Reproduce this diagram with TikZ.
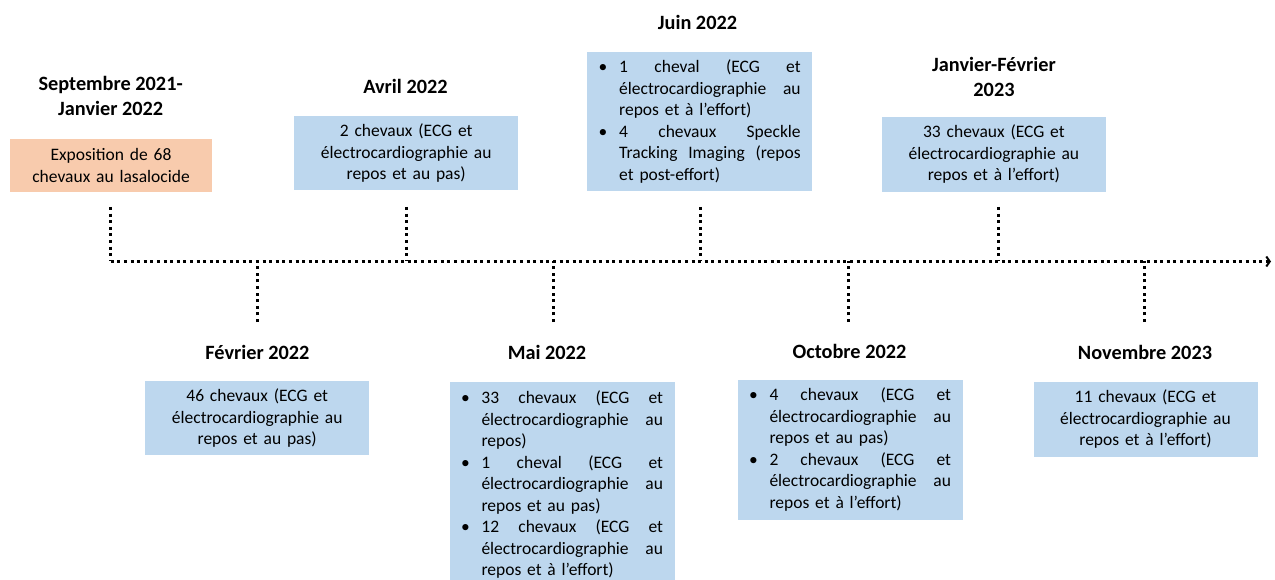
\documentclass[tikz,border=0pt]{standalone}
\usepackage{fontspec}
\setmainfont{Carlito}
\usetikzlibrary{arrows.meta}

\definecolor{boxblue}{HTML}{BDD7EE}
\definecolor{boxorange}{HTML}{F8CBAD}

\newcommand\bodyfont{\fontsize{17.5pt}{21.5pt}\selectfont}
\newcommand\titlefont{\fontsize{20.3pt}{24.5pt}\selectfont\bfseries}

% justified line of fixed width: interword spaces stretch to fill it
\newcommand\tlfill[1]{\hbox to 181.5pt{\spaceskip=\fontdimen2\font plus 1fil\relax #1}}
% list lines: first line of an item (bullet + justified), justified continuation, last line
\newcommand\tlbullet[1]{\hbox to 201pt{\hbox to 20pt{\kern-0.5pt\textbullet\hss}\tlfill{#1}\hss}}
\newcommand\tljust[1]{\hbox to 201pt{\kern20pt\tlfill{#1}\hss}}
\newcommand\tlrest[1]{\hbox to 201pt{\kern20pt #1\hss}}

\tikzset{
  title/.style={font=\titlefont, align=center, inner sep=0pt, text=black},
  infobox/.style={fill=boxblue, font=\bodyfont, align=center, text width=200pt,
    minimum width=224pt, inner xsep=12pt, inner ysep=0pt, anchor=north west, text=black},
  listbox/.style={fill=boxblue, font=\bodyfont, align=left, text width=201pt,
    minimum width=225pt, inner xsep=12pt, inner ysep=0pt, anchor=north west, text=black},
  dotline/.style={line width=3pt, dash pattern=on 3pt off 3.6pt, line cap=butt, black},
}

\begin{document}
\begin{tikzpicture}[x=1pt, y=-1pt]
\useasboundingbox (0,0) rectangle (1275,580);

% ---- boxes above the axis ----
\node[infobox, fill=boxorange, text width=190pt, minimum width=201.7pt, inner xsep=5.85pt,
      minimum height=52.7pt] (expo) at (10,139)
  {Exposition de 68\\chevaux au lasalocide};
\node[infobox, minimum height=74.3pt] (avrilbox) at (294,115.7)
  {2 chevaux (ECG et\\électrocardiographie au\\repos et au pas)};
\node[listbox, minimum height=138.7pt] (juinbox) at (587,52) {%
  \tlbullet{1 cheval (ECG et}
  \tljust{électrocardiographie au}
  \tlrest{repos et à l’effort)}
  \tlbullet{4 chevaux Speckle}
  \tljust{Tracking Imaging (repos}
  \tlrest{et post-effort)}};
\node[infobox, minimum height=75pt] (janvbox) at (881.7,116.7)
  {33 chevaux (ECG et\\électrocardiographie au\\repos et à l’effort)};

% ---- boxes below the axis ----
\node[infobox, minimum height=74.3pt] (fevbox) at (145,380.7)
  {46 chevaux (ECG et\\électrocardiographie au\\repos et au pas)};
\node[listbox, minimum height=206pt] (maibox) at (449.3,381.7) {%
  \tlbullet{33 chevaux (ECG et}
  \tljust{électrocardiographie au}
  \tlrest{repos)}
  \tlbullet{1 cheval (ECG et}
  \tljust{électrocardiographie au}
  \tlrest{repos et au pas)}
  \tlbullet{12 chevaux (ECG et}
  \tljust{électrocardiographie au}
  \tlrest{repos et à l’effort)}};
\node[listbox, minimum height=140pt] (octbox) at (737.3,379.3) {%
  \tlbullet{4 chevaux (ECG et}
  \tljust{électrocardiographie au}
  \tlrest{repos et au pas)}
  \tlbullet{2 chevaux (ECG et}
  \tljust{électrocardiographie au}
  \tlrest{repos et à l’effort)}};
\node[infobox, minimum height=75pt] (novbox) at (1033.3,381.7)
  {11 chevaux (ECG et\\électrocardiographie au\\repos et à l’effort)};

% ---- dates ----
\node[title] (tsept) at (110.7,96) {Septembre 2021-\\Janvier 2022};
\node[title] (tavril) at (405.5,86.7) {Avril 2022};
\node[title] (tjuin) at (697.5,22.7) {Juin 2022};
\node[title] (tjanv) at (994,76.7) {Janvier-Février\\2023};
\node[title] (tfev) at (257.5,352.7) {Février 2022};
\node[title] (tmai) at (547,352.7) {Mai 2022};
\node[title] (toct) at (849.5,351) {Octobre 2022};
\node[title] (tnov) at (1145,352.7) {Novembre 2023};

% ---- timeline ----
\coordinate (axstart) at (110.7,261.5);
\coordinate (axend) at (1271,261.5);
\coordinate (usept) at (110.7,207);
\coordinate (uavril) at (406,207);
\coordinate (ujuin) at (700,207);
\coordinate (ujanv) at (998,207);
\coordinate (dfev) at (257,322);
\coordinate (dmai) at (553,322);
\coordinate (doct) at (848,322);
\coordinate (dnov) at (1144.5,322);

\draw[dotline, -{Straight Barb[length=3.5pt, width=10pt, line width=2pt]}] (axstart) -- (axend);
\foreach \c in {usept, uavril, ujuin, ujanv, dfev, dmai, doct, dnov}
  \draw[dotline] (\c) -- (\c |- axstart);
\end{tikzpicture}
\end{document}
